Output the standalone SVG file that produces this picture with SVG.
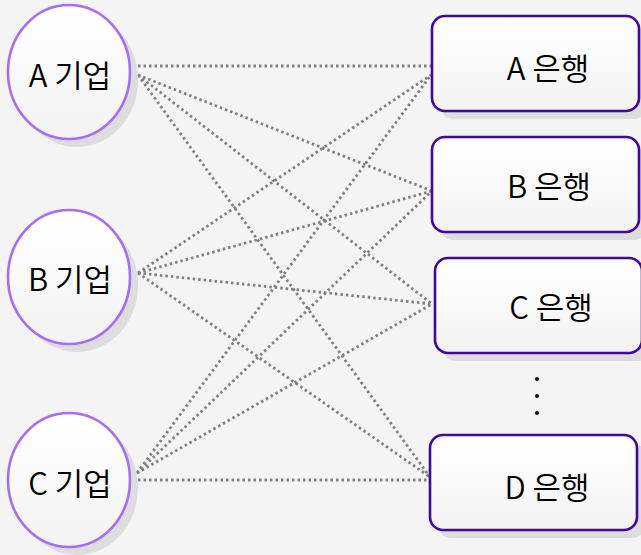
<svg xmlns="http://www.w3.org/2000/svg" width="641" height="555" viewBox="0 0 641 555">
  <defs>
    <linearGradient id="fillGrad" x1="0" y1="0" x2="0" y2="1">
      <stop offset="0" stop-color="#ffffff"/>
      <stop offset="1" stop-color="#f3f3f3"/>
    </linearGradient>
    <style>
      .bg { fill: #f4f4f4; }
      .shadow { fill: #dddddd; }
      .company { fill: url(#fillGrad); stroke: #a36ff7; stroke-width: 2.6; }
      .bank { fill: url(#fillGrad); stroke: #3d0a9c; stroke-width: 2.6; }
      .label { font-family: "Noto Sans CJK KR", "Noto Sans", sans-serif; font-size: 31px; font-weight: 350; fill: #000000; text-anchor: middle; dominant-baseline: central; }
      .conn { stroke: #808080; stroke-width: 2.8; stroke-dasharray: 2.5 3; fill: none; }
      .dot { fill: #111111; }
    </style>
  </defs>
  <rect class="bg" x="0" y="0" width="641" height="555"/>

  <g id="connectors">
    <line class="conn" x1="138" y1="66" x2="432" y2="66"/>
    <line class="conn" x1="138" y1="75" x2="432" y2="191"/>
    <line class="conn" x1="138" y1="75" x2="432" y2="304"/>
    <line class="conn" x1="138" y1="75" x2="430" y2="477"/>
    <line class="conn" x1="138" y1="273" x2="431" y2="75"/>
    <line class="conn" x1="138" y1="273" x2="432" y2="191"/>
    <line class="conn" x1="138" y1="273" x2="432" y2="304"/>
    <line class="conn" x1="138" y1="273" x2="430" y2="477"/>
    <line class="conn" x1="137" y1="473" x2="431" y2="75"/>
    <line class="conn" x1="137" y1="473" x2="432" y2="191"/>
    <line class="conn" x1="137" y1="473" x2="432" y2="304"/>
    <line class="conn" x1="138" y1="480" x2="430" y2="480"/>
  </g>

  <g id="company-a">
    <ellipse class="shadow" cx="77" cy="80" rx="61" ry="67"/>
    <ellipse class="company" cx="69" cy="72" rx="61" ry="67"/>
    <text class="label" x="70" y="73">A 기업</text>
  </g>
  <g id="company-b">
    <ellipse class="shadow" cx="77" cy="285" rx="61" ry="67"/>
    <ellipse class="company" cx="69" cy="277" rx="61" ry="67"/>
    <text class="label" x="70" y="277">B 기업</text>
  </g>
  <g id="company-c">
    <ellipse class="shadow" cx="77" cy="488" rx="61" ry="67"/>
    <ellipse class="company" cx="69" cy="480" rx="61" ry="67"/>
    <text class="label" x="70" y="481">C 기업</text>
  </g>

  <g id="bank-a">
    <rect class="shadow" x="440" y="24" width="207" height="95" rx="13"/>
    <rect class="bank" x="432" y="16" width="207" height="95" rx="13"/>
    <text class="label" x="548" y="66">A 은행</text>
  </g>
  <g id="bank-b">
    <rect class="shadow" x="440" y="145" width="207" height="95" rx="13"/>
    <rect class="bank" x="432" y="137" width="207" height="95" rx="13"/>
    <text class="label" x="549" y="184">B 은행</text>
  </g>
  <g id="bank-c">
    <rect class="shadow" x="443" y="266" width="207" height="95" rx="13"/>
    <rect class="bank" x="435" y="258" width="207" height="95" rx="13"/>
    <text class="label" x="551" y="305">C 은행</text>
  </g>
  <g id="bank-d">
    <rect class="shadow" x="438" y="443" width="207" height="95" rx="13"/>
    <rect class="bank" x="430" y="435" width="207" height="95" rx="13"/>
    <text class="label" x="547" y="485">D 은행</text>
  </g>

  <g id="ellipsis">
    <circle class="dot" cx="537" cy="379" r="2"/>
    <circle class="dot" cx="537" cy="396" r="2"/>
    <circle class="dot" cx="537" cy="413" r="2"/>
  </g>
</svg>
